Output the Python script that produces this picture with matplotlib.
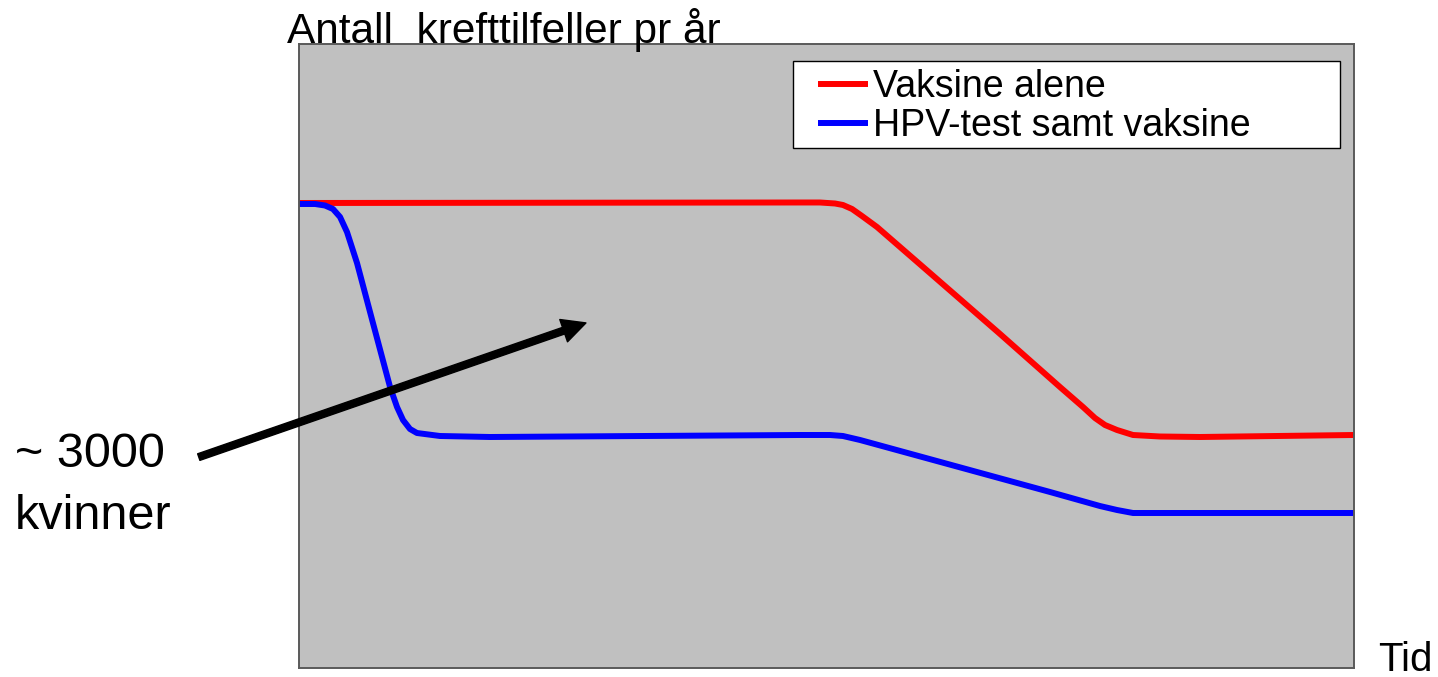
import matplotlib.pyplot as plt
from matplotlib.patches import Rectangle

plt.rcParams['font.family'] = ['Liberation Sans', 'DejaVu Sans']

# kurver lest av bildet (tid 0-100, antall 0-100)
tid_rod = [0, 47.49, 49.38, 50.81, 51.56, 52.42, 53.36, 54.79, 59.81, 66.45, 72.13, 74.31, 75.45,
           76.40, 77.54, 79.05, 81.61, 85.40, 100]
rod = [74.52, 74.60, 74.60, 74.44, 74.20, 73.56, 72.44, 70.67, 63.30, 53.53, 45.03, 41.83, 40.06,
       38.94, 38.14, 37.34, 37.10, 37.02, 37.34]

tid_bla = [0, 1.52, 2.46, 3.22, 3.89, 4.55, 5.50, 7.01, 8.63, 9.29, 9.86, 10.52, 11.18, 13.36, 18.10,
           47.49, 50.33, 51.56, 53.18, 71.18, 75.92, 77.54, 79.05, 85.40, 100]
bla = [74.36, 74.36, 74.12, 73.56, 72.28, 69.87, 64.90, 55.29, 45.03, 41.83, 39.74, 38.30, 37.66, 37.18, 37.02,
       37.34, 37.34, 37.18, 36.54, 28.21, 25.96, 25.32, 24.84, 24.84, 24.84]

serier = ["Vaksine alene", "HPV-test samt vaksine"]

fig = plt.figure(figsize=(14.38, 6.77), dpi=100)
ax = fig.add_axes([299 / 1438, 9 / 677, 1055 / 1438, 624 / 677])
ax.set_facecolor('#c0c0c0')

ax.plot(tid_rod, rod, color='#ff0000', lw=4.3, solid_joinstyle='round', solid_capstyle='butt', label=serier[0])
ax.plot(tid_bla, bla, color='#0000ff', lw=4.3, solid_joinstyle='round', solid_capstyle='butt', label=serier[1])

ax.set_xlim(0, 100)
ax.set_ylim(0, 100)
ax.set_xticks([])
ax.set_yticks([])
for s in ax.spines.values():
    s.set_color('#5a5a5a')
    s.set_linewidth(1.4)

# legenderamme
ax.add_patch(Rectangle((0.4683, 0.8333), 0.5184, 0.1394, transform=ax.transAxes,
                       facecolor='white', edgecolor='black', lw=1.0, zorder=4))
leg = ax.legend(loc='upper left', bbox_to_anchor=(0.4919, 0.960), borderaxespad=0,
                fontsize=27, frameon=False, borderpad=0, labelspacing=0.08,
                handlelength=1.33, handletextpad=0.13)
leg.set_zorder(5)

# pil
ax.annotate("", xy=(27.2, 55.3), xytext=(-9.5, 33.8), annotation_clip=False,
            arrowprops=dict(width=5, headwidth=17, headlength=17, shrink=0, color='black'))

fig.text(287 / 1438, 1 - 43 / 677, "Antall  krefttilfeller pr år", fontsize=30.5, va='baseline', ha='left')
fig.text(1378 / 1438, 1 - 671 / 677, "Tid", fontsize=29, va='baseline', ha='left')
fig.text(15 / 1438, 1 - 467 / 677, "~ 3000", fontsize=35, va='baseline', ha='left')
fig.text(15 / 1438, 1 - 529 / 677, "kvinner", fontsize=35, va='baseline', ha='left')

fig.savefig('out.png', dpi=100)
